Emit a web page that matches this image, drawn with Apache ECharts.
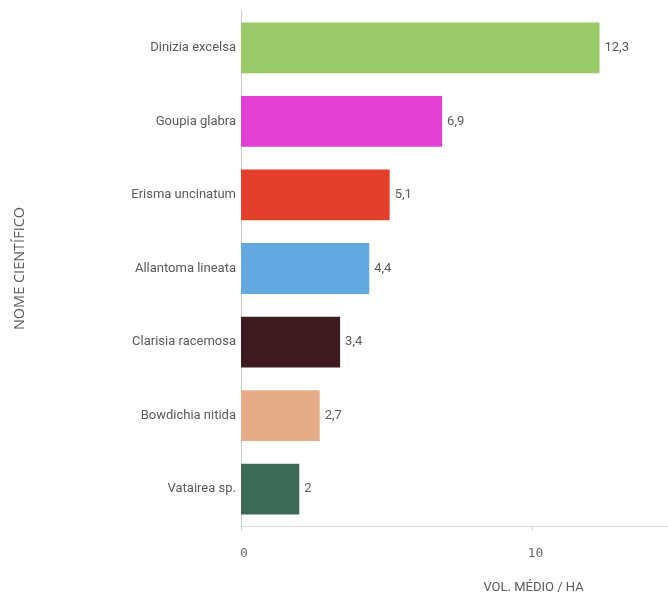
<!DOCTYPE html>
<html>
<head>
<meta charset="utf-8">
<script src="https://cdn.jsdelivr.net/npm/echarts@6/dist/echarts.min.js"></script>
<style>
  html, body { margin: 0; padding: 0; background: #fff; }
  #chart { width: 668px; height: 594px; }
</style>
</head>
<body>
<div id="chart"></div>
<script>
// nomes cientificos e volume medio por hectare
var especies = ['Dinizia excelsa', 'Goupia glabra', 'Erisma uncinatum', 'Allantoma lineata',
    'Clarisia racemosa', 'Bowdichia nitida', 'Vatairea sp.'];
var volumes = [12.3, 6.9, 5.1, 4.4, 3.4, 2.7, 2];
var cores = ['#9ac96a', '#e23fd3', '#e2402c', '#63a8de', '#3e1b21', '#e6ab88', '#3c6a57'];

var labelFont = 'Roboto, sans-serif';

var chart = echarts.init(document.getElementById('chart'));
var option = {
    animation: false,
    grid: { left: 241, right: 0, top: 11, bottom: 68, outerBoundsMode: 'none', containLabel: false },
    xAxis: {
        type: 'value',
        min: 0,
        max: 14.65,
        interval: 10,
        name: 'VOL. MÉDIO / HA',
        nameLocation: 'middle',
        nameGap: 55,
        nameTextStyle: { color: '#595959', fontSize: 13, fontFamily: labelFont, padding: [0, 0, 0, 158] },
        axisLine: { show: true, lineStyle: { color: '#d9d9d9', width: 1 } },
        axisTick: { show: true, length: 5, lineStyle: { color: '#d9d9d9' } },
        axisLabel: { color: '#6e6e6e', fontSize: 13, fontFamily: '"DejaVu Sans Mono", monospace', margin: 21, showMaxLabel: false, padding: [0, 0, 0, 6] },
        splitLine: { show: false }
    },
    yAxis: {
        type: 'category',
        inverse: true,
        data: especies,
        name: 'NOME CIENTÍFICO',
        nameLocation: 'middle',
        nameGap: 214,
        nameTextStyle: { color: '#595959', fontSize: 14.5, fontFamily: '"Open Sans", sans-serif' },
        axisLine: { show: true, lineStyle: { color: '#cccccc', width: 1 } },
        axisTick: { show: false },
        axisLabel: { color: '#595959', fontSize: 13, fontFamily: labelFont, margin: 5 }
    },
    series: [{
        type: 'bar',
        barWidth: '69%',
        data: volumes.map(function (v, i) {
            return { value: v, itemStyle: { color: cores[i] } };
        }),
        label: {
            show: true,
            position: 'right',
            distance: 5,
            color: '#595959',
            fontSize: 13,
            fontFamily: labelFont,
            formatter: function (p) { return String(p.value).replace('.', ','); }
        }
    }]
};
chart.setOption(option);
</script>
</body>
</html>
